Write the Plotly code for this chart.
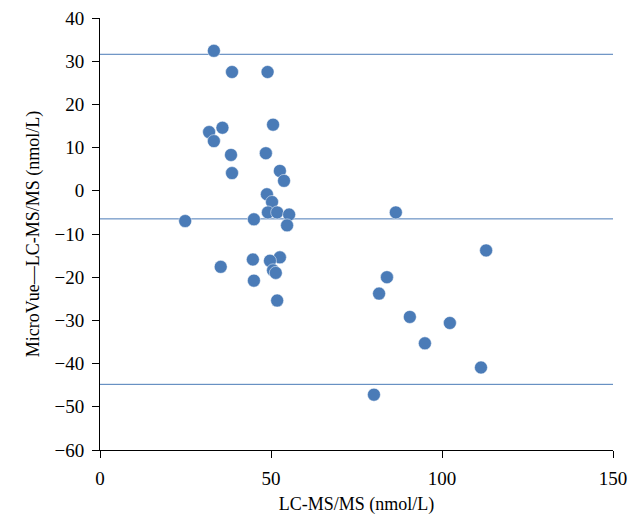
import plotly.graph_objects as go

lcms = [33.3, 38.6, 49.0, 50.6, 35.8, 31.9, 33.3, 38.3, 48.5, 38.6, 52.6, 53.8,
        48.8, 50.3, 49.1, 51.8, 55.3, 54.7, 45.0, 24.9, 86.5, 112.9, 44.7, 52.6,
        49.7, 35.3, 50.6, 51.4, 45.0, 51.8, 83.9, 81.6, 90.6, 102.3, 95.0, 111.4, 80.1]
diff = [32.4, 27.5, 27.5, 15.3, 14.6, 13.6, 11.5, 8.3, 8.7, 4.1, 4.6, 2.3,
        -0.8, -2.6, -5.0, -5.0, -5.5, -8.0, -6.6, -7.0, -5.0, -13.8, -15.9, -15.4,
        -16.2, -17.6, -18.4, -19.0, -20.8, -25.4, -20.0, -23.8, -29.2, -30.6, -35.3, -40.9, -47.2]

mean_diff = -6.5
upper_loa = 31.6
lower_loa = -44.8

x_range = [0, 150]
y_range = [-60, 40]
x_ticks = [0, 50, 100, 150]
y_ticks = list(range(-60, 41, 10))

blue = "#4a7bb7"

fig = go.Figure()
for v in [upper_loa, mean_diff, lower_loa]:
    fig.add_trace(go.Scatter(x=x_range, y=[v, v], mode="lines",
                             line=dict(color=blue, width=1), showlegend=False,
                             hoverinfo="skip"))
fig.add_trace(go.Scatter(x=lcms, y=diff, mode="markers",
                         marker=dict(color=blue, size=13,
                                     line=dict(color="white", width=0.5)),
                         showlegend=False, cliponaxis=False))

family = "Liberation Serif, Times New Roman, serif"
tickfont = dict(family=family, size=19, color="black")
titlefont = dict(family=family, size=18, color="black")
fig.update_layout(
    width=640, height=519,
    margin=dict(l=92, r=35, t=10, b=77, autoexpand=False),
    plot_bgcolor="white", paper_bgcolor="white",
    font=dict(family=family, size=18, color="black"),
    xaxis=dict(range=x_range, tickvals=x_ticks, showgrid=False,
               zeroline=False, showline=True, linecolor="black", linewidth=1,
               ticks="outside", ticklen=7, tickcolor="black", tickfont=tickfont,
               ticklabelstandoff=4, ticklabeloverflow="allow",
               title=dict(text="LC-MS/MS (nmol/L)", font=titlefont, standoff=9)),
    yaxis=dict(range=y_range, tickvals=y_ticks,
               ticktext=[("\u2212" + str(-t)) if t < 0 else str(t) for t in y_ticks],
               showgrid=False, zeroline=False, showline=True, linecolor="black",
               linewidth=1, ticks="outside", ticklen=7, tickcolor="black",
               tickfont=tickfont, ticklabelstandoff=4, ticklabeloverflow="allow",
               title=dict(text="MicroVue\u2014LC-MS/MS (nmol/L)", font=titlefont, standoff=10)),
)
fig.write_html("out.html")
